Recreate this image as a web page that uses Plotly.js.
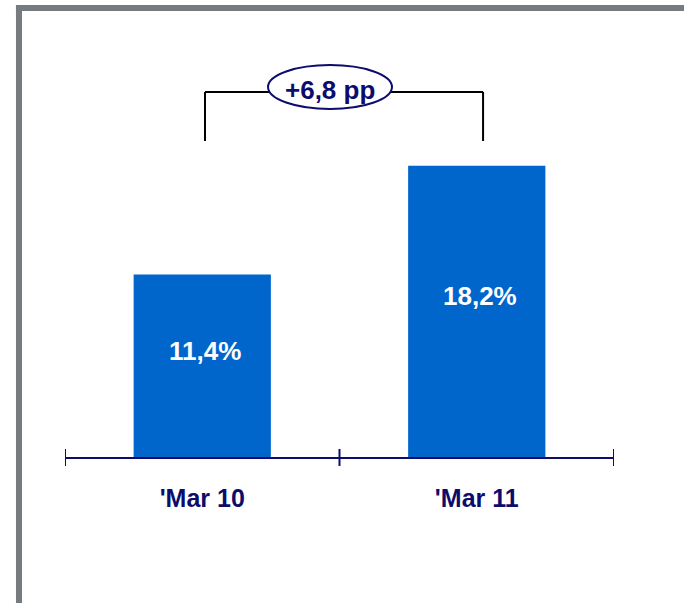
<!DOCTYPE html>
<html>
<head>
<meta charset="utf-8">
<script src="https://cdn.plot.ly/plotly-3.0.1.min.js"></script>
<style>
  html, body { margin: 0; padding: 0; background: #ffffff; }
  #chart { width: 684px; height: 603px; }
</style>
</head>
<body>
<div id="chart"></div>
<script>
// ---- data ----
const categories = ["'Mar 10", "'Mar 11"];
const values = [11.4, 18.2];
const valueLabels = ["11,4%", "18,2%"];

const NAVY = "#0c0c6c";
const BLUE = "#0066cc";
const FONT = "Liberation Sans, Arial, sans-serif";

const diff = (values[1] - values[0]).toFixed(1).replace('.', ',');

const xIdx = categories.map((c, i) => i);

const trace = {
  type: 'bar',
  x: xIdx,
  y: values,
  width: 0.5,
  marker: { color: BLUE },
  hoverinfo: 'skip'
};

const annotations = values.map((v, i) => ({
  x: i, y: v / 2, xref: 'x', yref: 'y',
  text: valueLabels[i], showarrow: false,
  xshift: 3, yshift: 15,
  font: { family: FONT, size: 26, color: '#ffffff', weight: 'bold' }
}));
annotations.push({
  xref: 'paper', yref: 'paper', x: 0.4827, y: 1.148,
  xanchor: 'center', yanchor: 'middle',
  text: '+' + diff + ' pp', showarrow: false,
  font: { family: FONT, size: 26, color: NAVY, weight: 'bold' }
});

const shapes = [
  // gray frame
  { type: 'rect', xref: 'paper', yref: 'paper', x0: -0.0893, x1: -0.0783, y0: -0.46, y1: 1.4125,
    fillcolor: '#767b7f', line: { width: 0 }, layer: 'above' },
  { type: 'rect', xref: 'paper', yref: 'paper', x0: -0.0893, x1: 1.13, y0: 1.39375, y1: 1.4125,
    fillcolor: '#767b7f', line: { width: 0 }, layer: 'above' },
  // tick marks crossing the axis
  ...[-0.5, 0.5, 1.5].map(t => ({
    type: 'line', xref: 'x', yref: 'paper', x0: t, x1: t, y0: -0.028, y1: 0.025,
    line: { color: NAVY, width: 2 }
  })),
  // bracket
  { type: 'line', xref: 'x', yref: 'paper', x0: 0.01, x1: 0.01, y0: 0.9875, y1: 1.1406,
    line: { color: '#000000', width: 2 } },
  { type: 'line', xref: 'x', yref: 'paper', x0: 1.023, x1: 1.023, y0: 0.9875, y1: 1.1406,
    line: { color: '#000000', width: 2 } },
  { type: 'line', xref: 'x', yref: 'paper', x0: 0.01, x1: 1.023, y0: 1.1406, y1: 1.1406,
    line: { color: '#000000', width: 2 } },
  // ellipse
  { type: 'circle', xref: 'paper', yref: 'paper', x0: 0.3698, x1: 0.5956, y0: 1.0875, y1: 1.225,
    fillcolor: '#ffffff', line: { color: NAVY, width: 2 } }
];

const layout = {
  width: 684, height: 603,
  margin: { l: 65, r: 70, t: 137, b: 146 },
  paper_bgcolor: '#ffffff', plot_bgcolor: '#ffffff',
  showlegend: false,
  xaxis: {
    range: [-0.5, 1.5],
    tickmode: 'array', tickvals: xIdx, ticktext: categories,
    ticks: '', showgrid: false, zeroline: false,
    showline: true, linecolor: NAVY, linewidth: 2,
    ticklabelstandoff: 18,
    tickfont: { family: FONT, size: 25, color: NAVY, weight: 'bold' },
    fixedrange: true
  },
  yaxis: { range: [0, 20], visible: false, fixedrange: true },
  annotations: annotations,
  shapes: shapes
};

Plotly.newPlot('chart', [trace], layout, { displayModeBar: false, staticPlot: true });
</script>
</body>
</html>
